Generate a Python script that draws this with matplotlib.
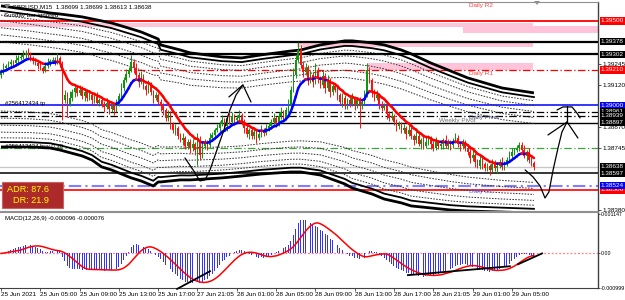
import numpy as np
import matplotlib
matplotlib.use("Agg")
import matplotlib.pyplot as plt
from matplotlib.collections import LineCollection
from matplotlib.patches import Rectangle, Polygon

# ---------------- data ----------------
first_open = 1.39180
close = [
    1.39198, 1.39222, 1.39234, 1.39245, 1.39257, 1.39251, 1.39269, 1.39281, 1.39287, 1.39299, 1.39310,
    1.39299, 1.39281, 1.39263, 1.39251, 1.39234, 1.39222, 1.39210, 1.39234, 1.39251, 1.39263, 1.39269, 1.39257, 1.39281, 1.39245,
    1.39032, 1.39062, 1.39009, 1.39044, 1.39080, 1.39103, 1.39074, 1.39092, 1.39056, 1.39080, 1.39044, 1.39062, 1.39032, 1.39050, 1.39015, 1.39032,
    1.39009, 1.38991, 1.39015, 1.38979, 1.38997, 1.38973, 1.39009,
    1.39056, 1.39103, 1.39151, 1.39186, 1.39210, 1.39257, 1.39222,
    1.39180, 1.39139, 1.39163, 1.39115, 1.39092, 1.39121, 1.39080, 1.39044, 1.39062, 1.39020, 1.38997,
    1.38973, 1.38926, 1.38944, 1.38890, 1.38855, 1.38867, 1.38819, 1.38796, 1.38807, 1.38760, 1.38784,
    1.38748, 1.38772, 1.38736, 1.38796, 1.38707, 1.38760,
    1.38784, 1.38766, 1.38807, 1.38825, 1.38855, 1.38867,
    1.38890, 1.38914, 1.38878, 1.38926, 1.38902, 1.38938, 1.38914, 1.38926, 1.38944,
    1.38902, 1.38867, 1.38831, 1.38855, 1.38819,
    1.38843, 1.38807, 1.38831, 1.38855, 1.38837, 1.38867, 1.38878,
    1.38902, 1.38926, 1.38890, 1.38938, 1.38961, 1.38926, 1.38973, 1.39009,
    1.39092, 1.39180, 1.39269, 1.39328,
    1.39240, 1.39198, 1.39222, 1.39151,
    1.39180, 1.39139, 1.39210, 1.39163, 1.39121, 1.39174, 1.39103, 1.39151, 1.39080, 1.39115, 1.39092,
    1.39062, 1.39020, 1.39044, 1.38997, 1.39032,
    1.39009, 1.39044, 1.39003, 1.39032, 1.38997, 1.39020, 1.39062,
    1.39210, 1.39151, 1.39080,
    1.39044, 1.39062, 1.39009, 1.38985, 1.38997, 1.38949, 1.38926, 1.38938, 1.38902, 1.38878, 1.38890, 1.38855,
    1.38867, 1.38831, 1.38855, 1.38819,
    1.38796, 1.38819, 1.38772, 1.38796, 1.38760, 1.38784, 1.38807, 1.38772, 1.38748, 1.38784, 1.38760,
    1.38772, 1.38796, 1.38760, 1.38784, 1.38766, 1.38790, 1.38807, 1.38772, 1.38760, 1.38784, 1.38748,
    1.38725, 1.38689, 1.38707, 1.38665, 1.38642, 1.38677, 1.38654, 1.38630,
    1.38642, 1.38618, 1.38654, 1.38630, 1.38642, 1.38665, 1.38636, 1.38659,
    1.38677, 1.38701, 1.38725, 1.38736, 1.38748, 1.38766,
    1.38736, 1.38701, 1.38725, 1.38677, 1.38659, 1.38638,
]
# wick lengths beyond the body, in pips
wick_up = [
    2, 3, 1, 2, 2, 1, 3, 2, 2, 3, 2,
    3, 2, 1, 2, 1, 2, 1, 2, 3, 1, 2, 2, 3, 1,
    2, 3, 2, 4, 2, 1, 2, 3, 2, 1, 2, 3, 1, 2, 3, 1,
    1, 2, 3, 1, 2, 1, 3,
    2, 3, 2, 3, 2, 4, 2,
    3, 2, 4, 2, 1, 3, 2, 1, 2, 1, 2,
    2, 1, 3, 2, 1, 2, 1, 2, 3, 1, 2,
    2, 3, 1, 4, 2, 3,
    2, 1, 3, 2, 1, 2,
    2, 3, 1, 2, 3, 2, 1, 2, 3,
    1, 2, 2, 1, 2,
    2, 1, 2, 3, 1, 2, 2,
    2, 3, 1, 2, 3, 1, 2, 3,
    2, 4, 3, 5,
    3, 2, 3, 2,
    3, 2, 4, 2, 1, 3, 2, 3, 1, 2, 2,
    2, 1, 3, 2, 1,
    2, 3, 1, 2, 2, 1, 3,
    4, 2, 1,
    2, 3, 1, 2, 2, 1, 2, 3, 1, 2, 2, 1,
    2, 1, 3, 2,
    1, 3, 2, 1, 2, 3, 2, 1, 2, 3, 1,
    2, 1, 3, 2, 1, 2, 3, 2, 1, 2, 1,
    1, 2, 3, 1, 2, 3, 2, 1,
    2, 1, 3, 2, 1, 2, 3, 1,
    2, 3, 2, 1, 2, 2,
    2, 3, 1, 2, 2, 1,
]
wick_dn = [
    2, 1, 2, 1, 2, 2, 1, 2, 1, 1, 2,
    1, 2, 2, 1, 2, 1, 2, 1, 1, 2, 1, 2, 1, 2,
    12, 2, 8, 1, 2, 3, 2, 1, 2, 3, 2, 1, 3, 2, 1, 2,
    2, 3, 1, 3, 2, 3, 1,
    1, 1, 2, 1, 2, 1, 3,
    2, 3, 1, 2, 3, 2, 2, 3, 1, 2, 3,
    3, 2, 2, 3, 2, 3, 2, 1, 3, 2, 2,
    3, 2, 3, 9, 3, 2,
    2, 3, 1, 2, 2, 1,
    2, 1, 2, 3, 1, 2, 2, 1, 2,
    2, 3, 2, 3, 2,
    2, 3, 1, 2, 2, 1, 2,
    1, 2, 2, 1, 2, 2, 1, 2,
    2, 1, 2, 1,
    2, 3, 2, 3,
    2, 3, 1, 3, 2, 2, 3, 2, 3, 2, 1,
    3, 2, 3, 2, 2,
    2, 1, 3, 2, 13, 2, 1,
    1, 2, 3,
    2, 1, 3, 2, 1, 3, 2, 1, 2, 3, 2, 2,
    2, 3, 1, 2,
    3, 2, 1, 3, 2, 1, 2, 3, 2, 1, 2,
    2, 3, 1, 2, 3, 2, 1, 2, 3, 2, 2,
    2, 3, 2, 3, 1, 2, 3, 2,
    2, 3, 1, 2, 3, 1, 2, 2,
    2, 1, 2, 2, 1, 2,
    2, 1, 3, 2, 2, 2,
]

time_labels = ['25 Jun 2021', '25 Jun 05:00', '25 Jun 09:00', '25 Jun 13:00', '25 Jun 17:00',
               '27 Jun 21:05', '28 Jun 01:00', '28 Jun 05:00', '28 Jun 09:00', '28 Jun 13:00',
               '28 Jun 17:00', '28 Jun 21:05', '29 Jun 01:00', '29 Jun 05:00']
bars_per_label = 16

# envelope channel (outer lines) knots
band_bars = [0, 12, 20, 24, 33, 37, 41, 45, 53, 57, 62, 64, 65, 73, 77, 90, 98, 106, 118, 122,
             130, 140, 143, 151, 156, 163, 167, 175, 183, 190, 204, 217]
band_upper = [1.39589, 1.39565, 1.39547, 1.39541, 1.39524, 1.39512, 1.39500, 1.39488, 1.39453, 1.39435,
              1.39405, 1.39393, 1.39358, 1.39328, 1.39311, 1.39287, 1.39281, 1.39299, 1.39322, 1.39328,
              1.39358, 1.39382, 1.39382, 1.39370, 1.39358, 1.39328, 1.39305, 1.39251, 1.39204, 1.39163,
              1.39103, 1.39074]
band_lower = [1.38754, 1.38754, 1.38748, 1.38736, 1.38701, 1.38677, 1.38636, 1.38618, 1.38571, 1.38553,
              1.38523, 1.38547, 1.38547, 1.38559, 1.38559, 1.38571, 1.38582, 1.38594, 1.38606, 1.38606,
              1.38588, 1.38535, 1.38511, 1.38476, 1.38446, 1.38423, 1.38405, 1.38393, 1.38381, 1.38375,
              1.38369, 1.38363]
inner_thick = 0.035
dotted_levels = [0.065, 0.105, 0.155, 0.205, 0.255]

# horizontal levels: price, colour, style, width, label-box colour (None = no box)
levels = [
    (1.39500, '#ff0000', '-', 1.3, '#ff0000'),
    (1.39378, '#000000', '-', 1.6, '#000000'),
    (1.39302, '#000000', '-', 1.6, '#000000'),
    (1.39210, '#ff0000', (0, (6, 2, 1, 2)), 0.9, '#ff0000'),
    (1.39000, '#0000ff', '-', 1.1, '#0000ff'),
    (1.38961, '#000000', (0, (6, 2, 1, 2)), 0.9, '#000000'),
    (1.38939, '#000000', (0, (6, 2, 1, 2)), 0.9, '#000000'),
    (1.38897, '#000000', '-', 1.0, '#000000'),
    (1.38745, '#3aa63a', (0, (6, 2, 1, 2)), 0.9, None),
    (1.38638, '#c8c8c8', '-', 1.0, '#000000'),
    (1.38597, '#000000', '-', 1.1, '#000000'),
    (1.38500, '#ff0000', '-', 1.2, '#ff0000'),
    (1.38524, '#7f7fff', (0, (6, 2, 1, 2)), 1.5, '#0000ff'),
]
tick_prices = [1.39245, 1.39120, 1.38870, 1.38745, 1.38380]

# pink zones: bar start, bar end, low price, high price
zones = [
    (-0.4, 216.6, 1.39466, 1.39490),
    (188.1, 243.5, 1.39429, 1.39470),
    (120.5, 216.6, 1.39346, 1.39378),
    (149.0, 216.6, 1.39210, 1.39251),
]

level_texts = [
    (190.5, 1.39590, 'Daily R2', '#ff4040'),
    (190.5, 1.39190, 'Daily R1', '#ff4040'),
    (178.5, 1.38910, 'Weekly Pivot', '#707070'),
    (190.5, 1.38930, 'Daily Pivot', '#505080'),
    (190.5, 1.38490, 'Daily S1', '#6060ff'),
]

# hand drawn annotations (bar, price)
arrow1 = [(74.9, 1.38689), (78.2, 1.38618), (81.0, 1.38553), (83.1, 1.38559), (85.1, 1.38618),
          (87.9, 1.38736), (90.8, 1.38855), (93.2, 1.38973), (95.7, 1.39062), (98.5, 1.39121)]
arrow1_head = [(92.8, 1.39050), (98.5, 1.39121), (101.8, 1.39020)]
arrow2 = [(213.4, 1.38618), (216.6, 1.38577), (219.5, 1.38523), (221.5, 1.38452), (223.1, 1.38488),
          (224.8, 1.38618), (226.8, 1.38748), (228.4, 1.38843), (230.5, 1.38902)]
arrow2_head = [(222.7, 1.38825), (230.5, 1.38902), (234.9, 1.38807)]
arrow2_stem = [(230.5, 1.38902), (230.5, 1.38997)]
arrow2_cap = [(226.4, 1.38973), (228.8, 1.38991), (232.5, 1.38991), (234.5, 1.38955), (235.8, 1.38926)]
macd_lines = [[(71.7, -0.00103), (85.1, -0.000516)],
              [(165.7, -0.00063), (207.2, -0.000372)],
              [(210.5, -0.000315), (220.3, 0.0)]]

# ---------------- derived series ----------------
close = np.array(close)
n = len(close)
opens = np.concatenate([[first_open], close[:-1]])
highs = np.maximum(opens, close) + np.array(wick_up) * 0.0001
lows = np.minimum(opens, close) - np.array(wick_dn) * 0.0001
idx = np.arange(n)


def ema(v, p):
    a = 2.0 / (p + 1)
    out = np.empty(len(v))
    out[0] = v[0]
    for i in range(1, len(v)):
        out[i] = a * v[i] + (1 - a) * out[i - 1]
    return out


ma = ema(close, 10)
macd = ema(close, 12) - ema(close, 26)
signal = np.array([macd[max(0, i - 8):i + 1].mean() for i in range(n)])

# ---------------- figure ----------------
W, H = 625, 300
fig = plt.figure(figsize=(W / 100, H / 100), dpi=100)
fig.patch.set_facecolor('white')
FONT = ['Liberation Sans Narrow', 'Liberation Sans', 'DejaVu Sans']


def rect(x0, y0, x1, y1):
    return [x0 / W, 1 - y1 / H, (x1 - x0) / W, (y1 - y0) / H]


ax = fig.add_axes(rect(0, 2, 598, 211))
axm = fig.add_axes(rect(0, 212, 598, 288), sharex=ax)

px_per_bar = 2.456
xmin = -1 / px_per_bar
xmax = xmin + 598 / px_per_bar
ax.set_xlim(xmin, xmax)
ax.set_ylim(1.38375, 1.39612)

for a in (ax, axm):
    a.set_facecolor('white')
    a.spines['left'].set_visible(False)
    a.spines['right'].set_color('#404040')
    a.spines['top'].set_color('#909090')
    a.spines['bottom'].set_color('#909090')
    a.spines['right'].set_linewidth(1.0)

# zones
for x0, x1, lo, hi in zones:
    ax.add_patch(Rectangle((x0, lo), x1 - x0, hi - lo, facecolor='#ffc4da', edgecolor='none', zorder=0.5))

# horizontal levels
for price, col, ls, lw, box in levels:
    ax.axhline(price, color=col, linestyle=ls, linewidth=lw, zorder=1)

# envelope channel
bu = np.array(band_upper)
bl = np.array(band_lower)
width = bu - bl
ax.plot(band_bars, bu, color='black', lw=2.0, zorder=2, solid_capstyle='butt')
ax.plot(band_bars, bl, color='black', lw=2.0, zorder=2, solid_capstyle='butt')
ax.plot(band_bars, bu - inner_thick * width, color='black', lw=1.3, zorder=2)
ax.plot(band_bars, bl + inner_thick * width, color='black', lw=1.3, zorder=2)
for f in dotted_levels:
    ax.plot(band_bars, bu - f * width, color='#303030', lw=0.7, ls=(0, (1.6, 1.4)), zorder=2)
    ax.plot(band_bars, bl + f * width, color='#303030', lw=0.7, ls=(0, (1.6, 1.4)), zorder=2)

# candles
up = close >= opens
cols = np.where(up, '#0e960e', '#ff1010')
ax.vlines(idx, lows, highs, colors=cols, lw=0.7, zorder=3)
body_lo = np.minimum(opens, close)
body_h = np.maximum(np.abs(close - opens), 0.000015)
ax.bar(idx, body_h, bottom=body_lo, width=0.62, color=cols, linewidth=0, zorder=3)

# coloured moving average
pts = np.column_stack([idx, ma])
segs = np.stack([pts[:-1], pts[1:]], axis=1)
seg_cols = ['#0000ff' if ma[i + 1] >= ma[i] else '#ff0000' for i in range(n - 1)]
ax.add_collection(LineCollection(segs, colors=seg_cols, linewidths=1.8, zorder=4, capstyle='round'))

# hand-drawn arrows
for path in (arrow1, arrow1_head, arrow2, arrow2_head, arrow2_stem, arrow2_cap):
    xs, ys = zip(*path)
    ax.plot(xs, ys, color='black', lw=0.9, zorder=6, solid_capstyle='round', solid_joinstyle='round')

# level texts
for bx, py, t, c in level_texts:
    ax.text(bx, py, t, color=c, fontsize=4.6, family=FONT, ha='left', va='center', zorder=5)

ax.text(1.5, 1.39000 + 0.00009, '#256412434 tp', fontsize=4.3, family=FONT, va='center', zorder=5)
ax.text(1.5, 1.38745 + 0.00009, '#256412434 buy 0.30', fontsize=4.3, family=FONT, va='center', zorder=5)

# header texts
fig.text(12 / W, 1 - 6.5 / H, 'GBPUSD,M15  1.38699 1.38699 1.38613 1.38638', fontsize=4.5, family=FONT,
         va='center', ha='left')
fig.text(4 / W, 1 - 15.5 / H, 'Sunday bar ignored', fontsize=4.5, family=FONT, va='center', ha='left')
fig.patches.append(Polygon([[4 / W, 1 - 4 / H], [10 / W, 1 - 4 / H], [7 / W, 1 - 9 / H]], closed=True,
                           transform=fig.transFigure, facecolor='#808080', edgecolor='none'))
fig.patches.append(Polygon([[534 / W, 1 - 1 / H], [540 / W, 1 - 1 / H], [537 / W, 1 - 5 / H]], closed=True,
                           transform=fig.transFigure, facecolor='#909090', edgecolor='none'))

# ADR box
fig.patches.append(Rectangle((2 / W, 1 - 208 / H), 61 / W, 26 / H, transform=fig.transFigure,
                             facecolor='#ad2a2a', edgecolor='#d06060', lw=0.8, zorder=10))
fig.text(7 / W, 1 - 189.5 / H, 'ADR: 87.6', color='#ffff00', fontsize=6.6, family=['Liberation Sans', 'DejaVu Sans'],
         va='center', ha='left', zorder=11)
fig.text(13 / W, 1 - 200.5 / H, 'DR: 21.9', color='#ffff00', fontsize=6.6, family=['Liberation Sans', 'DejaVu Sans'],
         va='center', ha='left', zorder=11)

# right price axis
ax.yaxis.tick_right()
ax.set_yticks(tick_prices)
ax.set_yticklabels([f'{p:.5f}' for p in tick_prices], fontsize=4.6, family=FONT)
ax.tick_params(axis='y', length=2, pad=1.5, width=0.6, color='#404040')
ax.tick_params(axis='x', bottom=False, labelbottom=False)
ytr = ax.get_yaxis_transform()
for price, col, ls, lw, box in [lv for lv in levels if lv[4] is not None]:
    ax.text(1.0045, price, f'{price:.5f}', transform=ytr, color='white', fontsize=4.6, family=FONT,
            ha='left', va='center', clip_on=False, zorder=20,
            bbox=dict(boxstyle='square,pad=0.18', facecolor=box, edgecolor='none'))

# MACD panel
axm.set_ylim(-0.001003, 0.001203)
axm.bar(idx, macd, width=0.38, color='#3333ff', linewidth=0, zorder=2)
axm.plot(idx, signal, color='#ff0000', lw=1.1, zorder=3)
axm.axhline(0, color='#ff8080', lw=0.9, ls=(0, (1.5, 1.5)), zorder=1)
for seg in macd_lines:
    xs, ys = zip(*seg)
    axm.plot(xs, ys, color='black', lw=1.3, zorder=6, clip_on=False)
axm.text(1.5, 0.00101, 'MACD(12,26,9) -0.000096 -0.000076', fontsize=4.3, family=FONT, va='center')
axm.yaxis.tick_right()
axm.set_yticks([0.001147, 0.0, -0.000999])
axm.set_yticklabels(['0.001147', '0.00', '-0.000999'], fontsize=3.8, family=FONT)
axm.tick_params(axis='y', length=1.5, pad=0.6, width=0.6, color='#404040')
tick_bars = [i * bars_per_label for i in range(len(time_labels))]
axm.set_xticks(tick_bars)
axm.set_xticklabels(time_labels, fontsize=4.6, family=FONT, ha='left')
axm.tick_params(axis='x', length=2, pad=1.0, width=0.6, color='#404040')
axm.spines['bottom'].set_color('#404040')

fig.savefig('out.png', dpi=100)
